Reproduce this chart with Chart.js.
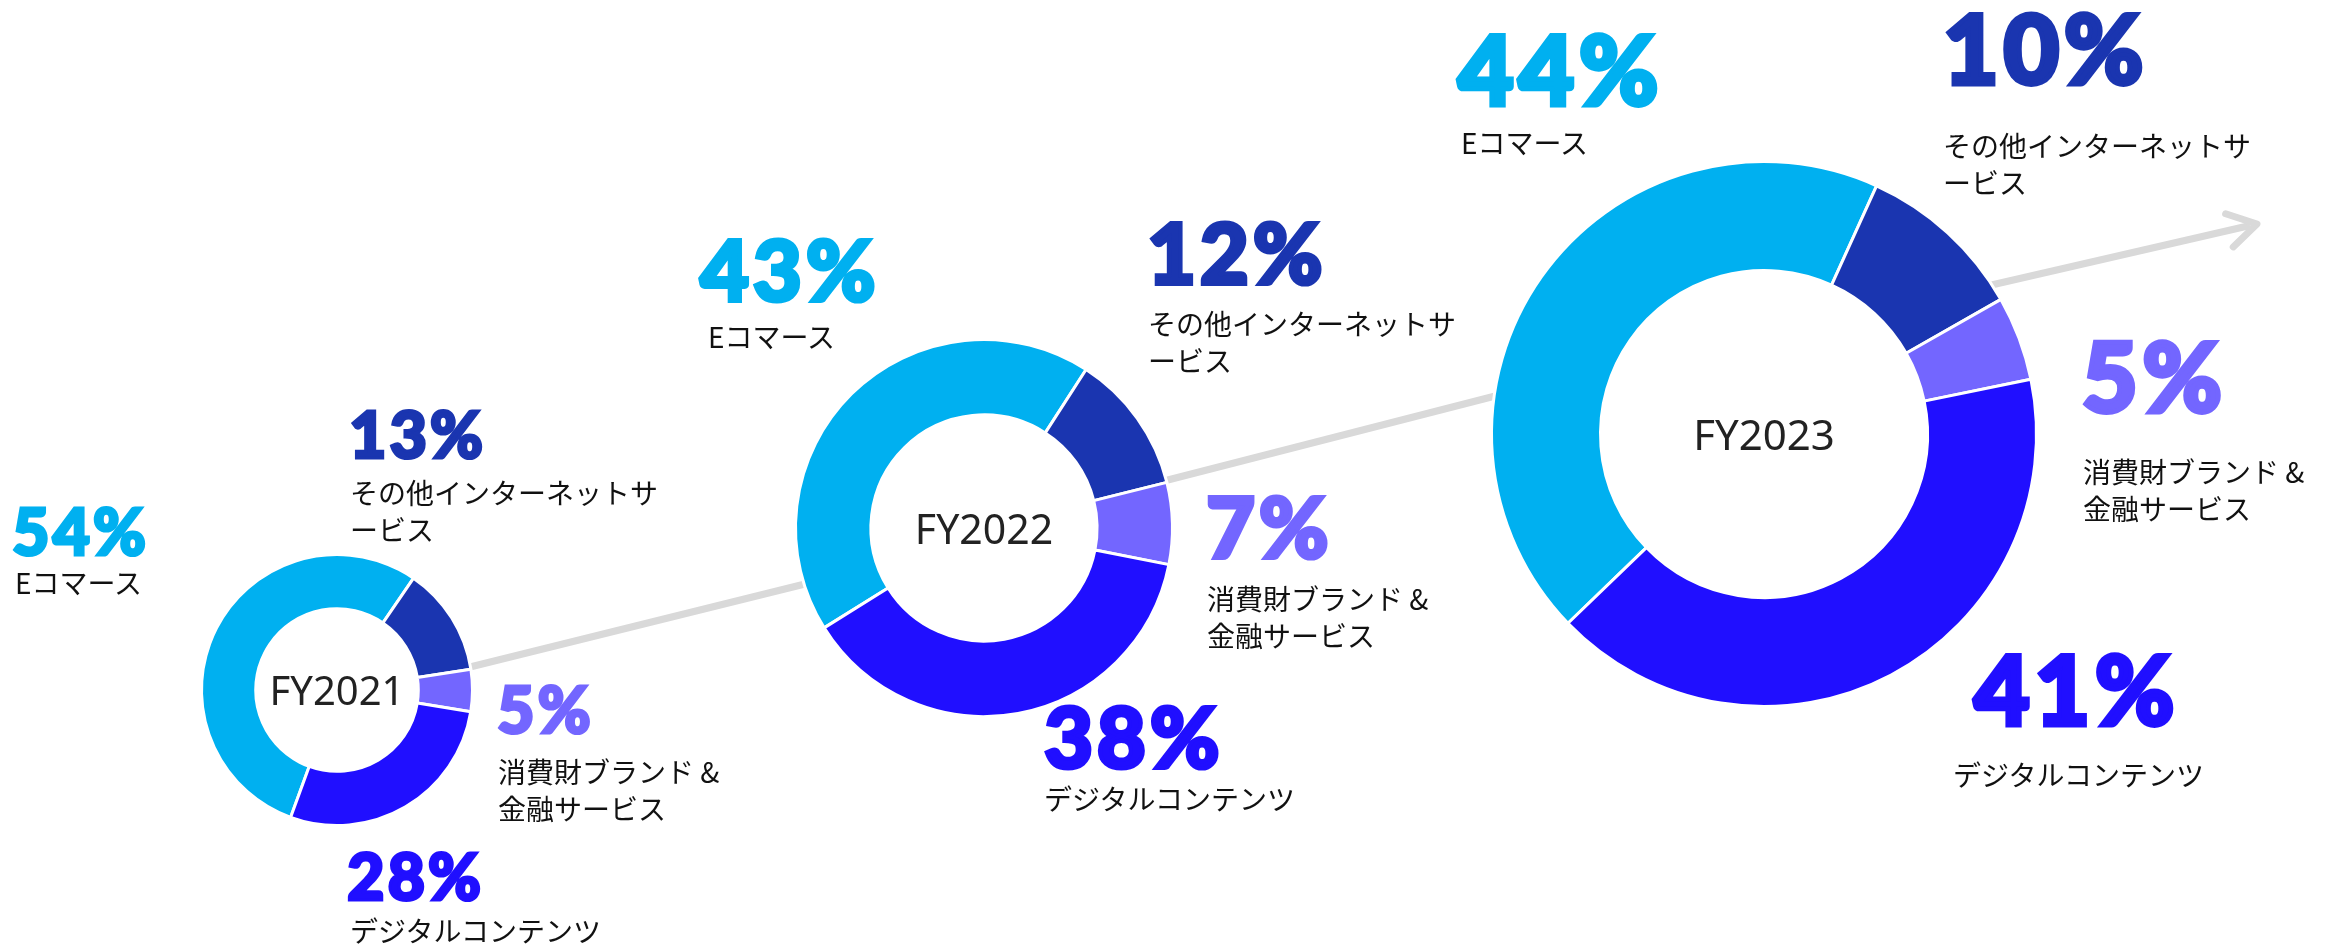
<!DOCTYPE html>
<html lang="ja">
<head>
<meta charset="utf-8">
<title>セグメント別売上構成比</title>
<script src="https://cdn.jsdelivr.net/npm/chart.js@4.4.1/dist/chart.umd.min.js"></script>
<style>
  html, body { margin: 0; padding: 0; background: #fff; }
  #stage { position: relative; width: 2338px; height: 948px; overflow: hidden; }
  #trend { position: absolute; left: 0; top: 0; }
  .donut { position: absolute; }
  .year {
    position: absolute;
    font-family: "Noto Sans", "Open Sans", sans-serif;
    color: #222;
    line-height: 1;
    white-space: nowrap;
    transform: translate(-50%, -50%);
  }
  .pct {
    position: absolute;
    font-family: Lato, "Noto Sans", sans-serif;
    font-weight: 900;
    line-height: 1;
    letter-spacing: 0.05em;
    white-space: nowrap;
  }
  .name {
    position: absolute;
    font-family: "Noto Sans CJK JP", sans-serif;
    font-size: 28px;
    line-height: 37px;
    color: #111;
    white-space: pre;
  }
</style>
</head>
<body>
<div id="stage">
  <canvas id="trend" width="2338" height="948"></canvas>
</div>

<script>
const years = ["FY2021", "FY2022", "FY2023"];
const segments = ["Eコマース", "その他インターネットサービス", "消費財ブランド & 金融サービス", "デジタルコンテンツ"];
// names as they wrap under each percentage
const segmentLabels = ["Eコマース", "その他インターネットサ\nービス", "消費財ブランド &\n金融サービス", "デジタルコンテンツ"];
const shareFY2021 = [54, 13, 5, 28];
const shareFY2022 = [43, 12, 7, 38];
const shareFY2023 = [44, 10, 5, 41];
const segmentColors = ["#00B0F0", "#1A35B0", "#7366FF", "#200FFF"];

const shares = [shareFY2021, shareFY2022, shareFY2023];

// ---------- layout: ring centre/radius, start angle, label spots [pctX, pctCapTop, nameX, nameMidY] ----------
const layouts = [
  { cx: 337, cy: 690, r: 134, rotation: 200, pctSize: 64, yearSize: 40,
    labels: [[13, 507, 15, 584], [350, 410, 350, 494], [498, 685, 498, 773], [348, 852, 350, 932]] },
  { cx: 984, cy: 528, r: 187, rotation: 238, pctSize: 84, yearSize: 41,
    labels: [[701, 238, 708, 338], [1148, 221, 1148, 325], [1207, 495, 1207, 600], [1045, 705, 1044, 800]] },
  { cx: 1764, cy: 434, r: 271, rotation: 226, pctSize: 96, yearSize: 42,
    labels: [[1459, 32, 1461, 144], [1944, 11, 1943, 147], [2083, 339, 2083, 473], [1975, 652, 1953, 776]] }
];

// grey growth line, drawn in pieces between the rings
const trendSegments = [
  [464, 668.5, 815, 581.5],
  [1160, 482, 1505, 393.5],
  [1985, 286.5, 2250, 225.5]
];
const arrowTip = [2257, 224];

const stage = document.getElementById("stage");

function drawTrendArrow() {
    const ctx = document.getElementById("trend").getContext("2d");
    ctx.strokeStyle = "#D9D9D9";
    ctx.lineWidth = 7;

    trendSegments.forEach(([x1, y1, x2, y2]) => {
        ctx.beginPath();
        ctx.moveTo(x1, y1);
        ctx.lineTo(x2, y2);
        ctx.stroke();
    });

    // Chevron head, arms follow the last segment's direction
    const [x1, y1, x2, y2] = trendSegments[trendSegments.length - 1];
    const back = Math.atan2(y1 - y2, x1 - x2);
    const arm = 33;
    const spread = 31 * Math.PI / 180;
    const [tx, ty] = arrowTip;
    ctx.lineCap = "round";
    ctx.lineJoin = "round";
    ctx.beginPath();
    ctx.moveTo(tx + arm * Math.cos(back + spread), ty + arm * Math.sin(back + spread));
    ctx.lineTo(tx, ty);
    ctx.lineTo(tx + arm * Math.cos(back - spread), ty + arm * Math.sin(back - spread));
    ctx.stroke();
}

function addText(cls, text, left, top, styles) {
    const el = document.createElement("div");
    el.className = cls;
    el.textContent = text;
    el.style.left = left + "px";
    el.style.top = top + "px";
    Object.assign(el.style, styles || {});
    stage.appendChild(el);
    return el;
}

function renderYear(i) {
    const lay = layouts[i];
    const pad = 10;
    const size = 2 * (lay.r + pad);

    const box = document.createElement("div");
    box.className = "donut";
    box.style.left = (lay.cx - lay.r - pad) + "px";
    box.style.top = (lay.cy - lay.r - pad) + "px";
    const canvas = document.createElement("canvas");
    canvas.width = size;
    canvas.height = size;
    box.appendChild(canvas);
    stage.appendChild(box);

    new Chart(canvas.getContext("2d"), {
        type: "doughnut",
        data: {
            labels: segments,
            datasets: [{
                label: years[i],
                data: shares[i],
                backgroundColor: segmentColors,
                borderColor: "#ffffff",
                borderWidth: 3
            }]
        },
        options: {
            responsive: false,
            animation: false,
            events: [],
            radius: lay.r + 1.5,
            cutout: "60%",
            rotation: lay.rotation,
            layout: { padding: 0 },
            plugins: {
                legend: { display: false },
                tooltip: { enabled: false }
            }
        }
    });

    // year in the hole
    addText("year", years[i], lay.cx, lay.cy, { fontSize: lay.yearSize + "px" });

    // percentage + segment name for every slice
    shares[i].forEach((value, k) => {
        const [px, capTop, nx, midY] = lay.labels[k];
        const fs = lay.pctSize;
        addText("pct", value + "%", px - 0.01 * fs, capTop - 0.1535 * fs + 0.025 * fs, {
            fontSize: fs + "px",
            color: segmentColors[k],
            webkitTextStroke: (0.05 * fs).toFixed(1) + "px " + segmentColors[k]
        });
        addText("name", segmentLabels[k], nx, midY - 20);
    });
}

drawTrendArrow();
years.forEach((_, i) => renderYear(i));
</script>
</body>
</html>
